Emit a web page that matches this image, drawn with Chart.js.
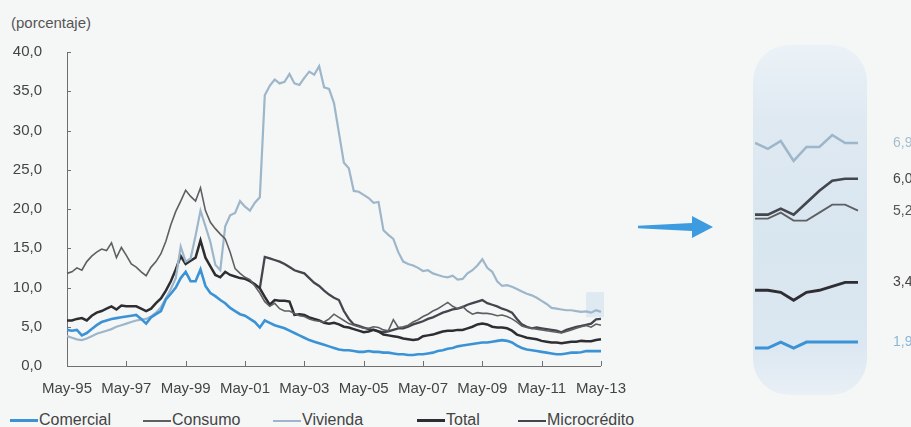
<!DOCTYPE html>
<html>
<head>
<meta charset="utf-8">
<script src="https://cdn.jsdelivr.net/npm/chart.js@4/dist/chart.umd.min.js"></script>
<style>
    html, body { margin: 0; padding: 0; background: #f5f7f6; }
    body { width: 911px; height: 427px; position: relative; overflow: hidden; font-family: "Liberation Sans", Arial, sans-serif; }
    #unit { position: absolute; left: 11px; top: 14px; font-size: 15px; color: #555; }
    #main { position: absolute; left: 0; top: 0; }
    #legend .lg { position: absolute; top: 410px; font-size: 16px; line-height: 20px; color: #444; white-space: nowrap; }
    #legend .lg i { display: inline-block; width: 28px; vertical-align: middle; margin-right: 1px; }
    #capsule { position: absolute; left: 753px; top: 45px; width: 114px; height: 350px; border-radius: 36px;
        background: linear-gradient(to bottom, #ebf2f7 0%, #dfe9f2 22%, #d8e6f0 55%, #dbe7f1 85%, #e9f0f6 100%); }
    #zoom { position: absolute; left: 755px; top: 45px; }
    #arrow { position: absolute; left: 636px; top: 214px; }
</style>
</head>
<body>
<div id="unit">(porcentaje)</div>
<canvas id="main" width="640" height="400"></canvas>
<div id="legend"></div>
<svg id="arrow" width="80" height="26" viewBox="0 0 80 26">
    <polygon points="2,11.8 56,9 56,2 77,13 56,24 56,17 2,14.2" fill="#3d9be0"/>
</svg>
<div id="capsule"></div>
<canvas id="zoom" width="156" height="350"></canvas>
<script>
// bi-monthly observations, May-95 .. May-13
var aTickLabels = ['May-95', 'May-97', 'May-99', 'May-01', 'May-03', 'May-05', 'May-07', 'May-09', 'May-11', 'May-13'];
var aMonthAbbr = ['Jan', 'Feb', 'Mar', 'Apr', 'May', 'Jun', 'Jul', 'Aug', 'Sep', 'Oct', 'Nov', 'Dec'];

var aComercial = [
    4.6, 4.5, 4.6, 3.9, 4.2, 4.7, 5.2, 5.6, 5.8, 6.0, 6.1, 6.2,
    6.3, 6.4, 6.5, 6.0, 5.4, 6.2, 6.6, 7.0, 8.5, 9.2, 10.0, 11.2,
    12.0, 10.8, 10.8, 12.3, 10.2, 9.3, 8.9, 8.4, 8.0, 7.4, 7.0, 6.6,
    6.4, 6.0, 5.6, 4.9, 5.8, 5.5, 5.2, 5.0, 4.8, 4.5, 4.2, 3.9,
    3.6, 3.3, 3.1, 2.9, 2.7, 2.5, 2.3, 2.1, 2.0, 2.0, 1.9, 1.8,
    1.8, 1.9, 1.8, 1.8, 1.7, 1.7, 1.6, 1.5, 1.5, 1.4, 1.4, 1.5,
    1.5, 1.6, 1.7, 1.9, 2.0, 2.2, 2.3, 2.5, 2.6, 2.7, 2.8, 2.9,
    3.0, 3.0, 3.1, 3.2, 3.3, 3.2, 3.0, 2.6, 2.3, 2.1, 2.0, 1.9,
    1.8, 1.7, 1.6, 1.5, 1.5, 1.6, 1.7, 1.7, 1.75, 1.9, 1.9, 1.9,
    1.9
];
var aConsumo = [
    11.8, 12.0, 12.5, 12.2, 13.3, 14.0, 14.5, 14.9, 14.7, 15.7, 13.8, 15.1,
    14.1, 13.0, 12.6, 12.0, 11.5, 12.6, 13.3, 14.3, 15.9, 18.0, 19.7, 21.0,
    22.4, 21.6, 21.0, 22.7, 19.8, 18.3, 17.5, 16.8, 16.2, 14.5, 12.4, 11.8,
    11.3, 11.0, 10.2, 9.3, 8.2, 7.6, 8.0, 7.3, 7.0, 7.0, 6.7, 6.4,
    6.3, 6.0, 5.8, 5.7, 5.6, 6.0, 6.6, 6.2, 5.8, 5.4, 5.2, 5.0,
    4.8, 4.8, 5.0, 4.9, 4.6, 4.5, 5.9, 4.9, 5.0, 5.2, 5.6, 5.9,
    6.3, 6.6, 7.0, 7.3, 7.7, 8.1, 7.6, 7.3, 7.6, 7.0, 6.6, 6.8,
    6.7, 6.7, 6.6, 6.4, 6.5, 6.3, 6.0, 5.6, 5.1, 4.9, 4.8, 4.7,
    4.6, 4.5, 4.4, 4.3, 4.2, 4.4, 4.6, 4.8, 5.0, 5.15, 4.95, 5.35,
    5.2
];
var aVivienda = [
    3.8, 3.6, 3.4, 3.3, 3.5, 3.8, 4.1, 4.3, 4.5, 4.7, 5.0, 5.2,
    5.4, 5.6, 5.8, 5.9, 6.0, 6.3, 6.8, 7.5, 8.6, 9.8, 11.2, 15.2,
    13.3, 13.7, 16.6, 19.8, 17.8, 15.8, 12.9, 12.2, 17.8, 19.2, 19.5, 21.0,
    20.3, 19.8, 20.8, 21.5, 34.5, 35.7, 36.5, 36.0, 36.2, 37.2, 36.0, 35.8,
    36.7, 37.5, 37.1, 38.2, 35.5, 35.3, 33.5, 29.7, 25.9, 25.2, 22.3, 22.2,
    21.8, 21.4, 20.8, 20.9, 17.3, 16.7, 16.2, 14.5, 13.3, 13.0, 12.8, 12.5,
    12.1, 12.2, 11.8, 11.6, 11.4, 11.3, 11.5, 11.0, 11.1, 11.8, 12.2, 12.8,
    13.6, 12.5, 12.0, 10.8, 10.2, 10.3, 10.1, 9.8, 9.5, 9.2, 9.0, 8.7,
    8.3, 7.9, 7.4, 7.3, 7.2, 7.1, 7.1, 7.0, 6.9, 6.95, 6.8, 7.1,
    6.9
];
var aTotal = [
    5.8, 5.8, 6.0, 6.1, 5.8, 6.4, 6.8, 7.0, 7.3, 7.6, 7.2, 7.7,
    7.6, 7.6, 7.6, 7.3, 7.0, 7.3, 8.0, 8.6, 9.6, 10.8, 12.3, 14.0,
    13.0, 13.4, 13.8, 16.0, 13.8, 12.7, 11.6, 11.3, 12.0, 11.6, 11.4, 11.2,
    11.1, 10.8, 10.4, 9.9, 8.8, 7.8, 8.4, 8.3, 8.3, 8.2, 6.5, 6.6,
    6.5, 6.2, 6.0, 5.8, 5.5, 5.4, 5.5, 5.3, 5.0, 4.9, 4.7, 4.5,
    4.3, 4.4, 4.6, 4.4, 4.0, 3.9, 3.8, 3.7, 3.5, 3.4, 3.3, 3.4,
    3.8, 3.9, 4.0, 4.2, 4.4, 4.5, 4.5, 4.6, 4.6, 4.8, 5.0, 5.3,
    5.4, 5.3, 5.0, 4.9, 4.9, 4.8, 4.5, 4.0, 3.8, 3.6, 3.5, 3.4,
    3.2, 3.1, 3.0, 3.0, 2.9, 3.0, 3.1, 3.1, 3.2, 3.15, 3.15, 3.3,
    3.4
];
var aMicrocredito = [
    null, null, null, null, null, null, null, null, null, null, null, null,
    null, null, null, null, null, null, null, null, null, null, null, null,
    null, null, null, null, null, null, null, null, null, null, null, null,
    null, null, null, 9.9, 13.9, 13.7, 13.5, 13.3, 13.0, 12.6, 12.2, 12.0,
    11.8, 11.2, 10.6, 10.2, 9.6, 9.1, 8.7, 8.4, 7.0, 6.0, 5.3, 5.1,
    4.9, 4.7, 4.6, 4.4, 4.3, 4.4, 4.6, 4.8, 4.8, 5.0, 5.3, 5.5,
    5.7, 6.0, 6.2, 6.5, 6.8, 7.0, 7.2, 7.3, 7.5, 7.8, 8.0, 8.2,
    8.4, 8.0, 7.8, 7.6, 7.3, 7.1, 6.8, 6.0, 5.3, 5.0, 4.8, 4.9,
    4.8, 4.7, 4.6, 4.5, 4.3, 4.6, 4.8, 5.0, 5.1, 5.25, 5.4, 5.95,
    6.0
];

// last nine months, shown enlarged on the right
var aZoomLabels = ['Sep-12', 'Oct-12', 'Nov-12', 'Dec-12', 'Jan-13', 'Feb-13', 'Mar-13', 'Apr-13', 'May-13'];
var aZoomComercial = [1.75, 1.75, 1.9, 1.75, 1.9, 1.9, 1.9, 1.9, 1.9];
var aZoomConsumo = [5.0, 5.0, 5.15, 4.95, 4.95, 5.15, 5.35, 5.35, 5.2];
var aZoomVivienda = [6.9, 6.75, 6.95, 6.45, 6.8, 6.8, 7.1, 6.9, 6.9];
var aZoomTotal = [3.2, 3.2, 3.15, 2.95, 3.15, 3.2, 3.3, 3.4, 3.4];
var aZoomMicrocredito = [5.1, 5.1, 5.25, 5.1, 5.4, 5.7, 5.95, 6.0, 6.0];

var aSeriesNames = ['Comercial', 'Consumo', 'Vivienda', 'Total', 'Microcrédito'];

// styles
var oStyle = {
    'Comercial':    { color: '#3b93d6', width: 2.6, label: '#8fb6d6' },
    'Consumo':      { color: '#5f5f62', width: 1.6, label: '#555555' },
    'Vivienda':     { color: '#9db6ca', width: 2.2, label: '#a9bccb' },
    'Total':        { color: '#2e2e32', width: 2.5, label: '#444444' },
    'Microcrédito': { color: '#43464d', width: 2.3, label: '#444444' }
};
var aLegendLeft = [10, 143, 273, 417, 518];

var aCategories = [];
for (var i = 0; i < aComercial.length; i++) {
    var iMonth = 4 + i * 2;
    aCategories.push(aMonthAbbr[iMonth % 12] + '-' + String((95 + Math.floor(iMonth / 12)) % 100).padStart(2, '0'));
}

Chart.defaults.font.family = '"Liberation Sans", Arial, sans-serif';

function fmt(v) {
    return v.toFixed(1).replace('.', ',');
}

function makeDatasets(aArrays, fWidth) {
    return aSeriesNames.map(function (sName, i) {
        return {
            label: sName,
            data: aArrays[i],
            borderColor: oStyle[sName].color,
            borderWidth: oStyle[sName].width * (fWidth || 1),
            pointRadius: 0,
            tension: 0,
            spanGaps: false
        };
    });
}

// short tick marks drawn inside the plot, as in the original
var oInnerTicks = {
    id: 'innerTicks',
    afterDraw: function (chart) {
        var ctx = chart.ctx, x = chart.scales.x, y = chart.scales.y;
        ctx.save();
        ctx.strokeStyle = '#6f6f6f';
        ctx.lineWidth = 1;
        ctx.beginPath();
        y.ticks.forEach(function (t) {
            var py = Math.round(y.getPixelForValue(t.value)) + 0.5;
            ctx.moveTo(x.left, py);
            ctx.lineTo(x.left + 4, py);
        });
        aCategories.forEach(function (c, i) {
            if (aTickLabels.indexOf(c) < 0) return;
            var px = Math.round(x.getPixelForValue(i)) + 0.5;
            ctx.moveTo(px, y.bottom);
            ctx.lineTo(px, y.bottom - 5);
        });
        ctx.stroke();
        ctx.restore();
    }
};

// pale box marking the enlarged stretch
var oZoomBox = {
    id: 'zoomBox',
    beforeDatasetsDraw: function (chart) {
        var ctx = chart.ctx, x = chart.scales.x, y = chart.scales.y;
        var x0 = x.getPixelForValue(aCategories.length - 4);
        var x1 = x.getPixelForValue(aCategories.length - 1) + 3;
        var y0 = y.getPixelForValue(9.4), y1 = y.getPixelForValue(6.2);
        ctx.save();
        ctx.fillStyle = 'rgba(204,222,238,0.55)';
        ctx.fillRect(x0, y0, x1 - x0, y1 - y0);
        ctx.restore();
    }
};

new Chart(document.getElementById('main'), {
    type: 'line',
    data: {
        labels: aCategories,
        datasets: makeDatasets([aComercial, aConsumo, aVivienda, aTotal, aMicrocredito])
    },
    options: {
        responsive: false,
        animation: false,
        layout: { autoPadding: false, padding: { top: 52, right: 27, left: 0, bottom: 0 } },
        plugins: { legend: { display: false }, tooltip: { enabled: false } },
        scales: {
            x: {
                grid: { display: false, drawTicks: false },
                border: { display: true, color: '#6f6f6f', width: 1 },
                ticks: {
                    autoSkip: false, maxRotation: 0, padding: 14, color: '#444', font: { size: 15 },
                    callback: function (v) {
                        var s = this.getLabelForValue(v);
                        return aTickLabels.indexOf(s) >= 0 ? s : '';
                    }
                },
                afterFit: function (s) { s.height = 31; }
            },
            y: {
                min: 0, max: 40,
                grid: { display: false, drawTicks: false },
                border: { display: true, color: '#6f6f6f', width: 1 },
                ticks: { stepSize: 5, padding: 25, color: '#444', font: { size: 15 }, callback: fmt },
                afterFit: function (s) { s.width = 67; }
            }
        }
    },
    plugins: [oInnerTicks, oZoomBox]
});

// value labels next to the enlarged lines
var oEndLabels = {
    id: 'endLabels',
    afterDatasetsDraw: function (chart) {
        var ctx = chart.ctx;
        ctx.save();
        ctx.font = '14px "Liberation Sans", Arial, sans-serif';
        ctx.textBaseline = 'middle';
        chart.data.datasets.forEach(function (ds, i) {
            var meta = chart.getDatasetMeta(i);
            var pt = meta.data[meta.data.length - 1];
            ctx.fillStyle = oStyle[ds.label].label;
            ctx.fillText(fmt(ds.data[ds.data.length - 1]), chart.chartArea.right + 35, pt.y);
        });
        ctx.restore();
    }
};

new Chart(document.getElementById('zoom'), {
    type: 'line',
    data: {
        labels: aZoomLabels,
        datasets: makeDatasets([aZoomComercial, aZoomConsumo, aZoomVivienda, aZoomTotal, aZoomMicrocredito], 1.15)
    },
    options: {
        responsive: false,
        animation: false,
        layout: { autoPadding: false, padding: { top: 0, right: 53, left: 0, bottom: 0 } },
        plugins: { legend: { display: false }, tooltip: { enabled: false } },
        scales: {
            x: { display: false },
            y: { display: false, min: 0.57, max: 9.36 }
        }
    },
    plugins: [oEndLabels]
});

// legend
var oLegend = document.getElementById('legend');
aSeriesNames.forEach(function (sName, i) {
    var oItem = document.createElement('span');
    oItem.className = 'lg';
    oItem.style.left = aLegendLeft[i] + 'px';
    var oLine = document.createElement('i');
    oLine.style.height = Math.round(oStyle[sName].width) + 'px';
    oLine.style.background = oStyle[sName].color;
    oItem.appendChild(oLine);
    oItem.appendChild(document.createTextNode(sName));
    oLegend.appendChild(oItem);
});
</script>
</body>
</html>
